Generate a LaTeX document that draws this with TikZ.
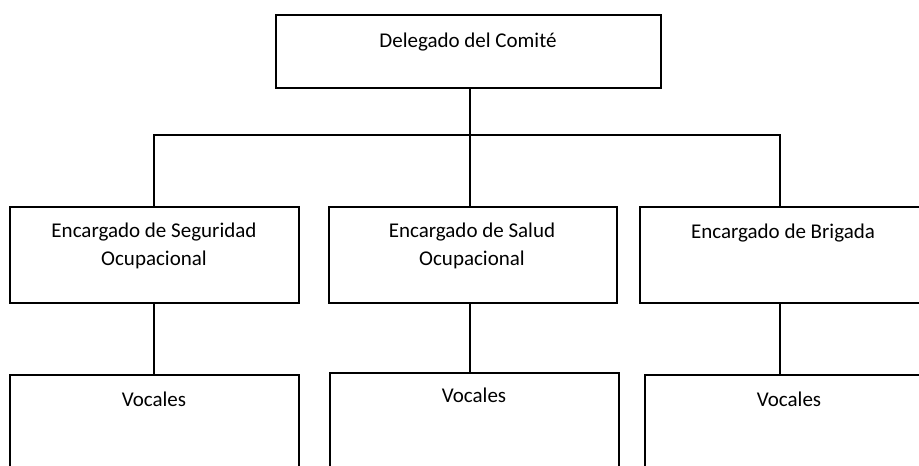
\documentclass[tikz,border=0pt]{standalone}
\usepackage{fontspec}
\setmainfont{Carlito}
\begin{document}
\begin{tikzpicture}[x=1pt,y=-1pt,
  box/.style={draw=black,line width=1.6pt,rectangle,inner sep=0pt,anchor=north west},
  txt/.style={font=\fontsize{21}{27.5}\selectfont,align=center,anchor=base,inner sep=0pt},
  link/.style={draw=black,line width=1.6pt}]
\useasboundingbox (0,0) rectangle (919,466);
\clip (0,0) rectangle (919,466);
% boxes
\node[box,minimum width=385pt,minimum height=73pt] (top) at (275,14) {};
\node[box,minimum width=289pt,minimum height=96pt] (e1) at (9,206) {};
\node[box,minimum width=288pt,minimum height=96pt] (e2) at (328,206) {};
\node[box,minimum width=289pt,minimum height=96pt] (e3) at (639,206) {};
\node[box,minimum width=289pt,minimum height=140pt] (v1) at (9,374) {};
\node[box,minimum width=289pt,minimum height=140pt] (v2) at (329,372) {};
\node[box,minimum width=289pt,minimum height=140pt] (v3) at (644,374) {};
% texts
\node[txt] (ttop) at (468,47) {Delegado del Comité};
\node[txt,anchor=north] (te1) at (154,223) {Encargado de Seguridad\\Ocupacional};
\node[txt,anchor=north] (te2) at (472,223) {Encargado de Salud\\Ocupacional};
\node[txt] (te3) at (783,238.5) {Encargado de Brigada};
\node[txt] (tv1) at (154,406) {Vocales};
\node[txt] (tv2) at (474,402) {Vocales};
\node[txt] (tv3) at (789,406) {Vocales};
% connector guides
\coordinate (xl) at (154,0);
\coordinate (xm) at (470,0);
\coordinate (xr) at (780,0);
\coordinate (bus) at (470,135);
% connectors
\draw[link] (top.south -| xm) -- (e2.north -| xm);
\draw[link] (e1.north -| xl) |- (bus) -| (e3.north -| xr);
\draw[link] (e1.south -| xl) -- (v1.north -| xl);
\draw[link] (e2.south -| xm) -- (v2.north -| xm);
\draw[link] (e3.south -| xr) -- (v3.north -| xr);
\end{tikzpicture}
\end{document}
